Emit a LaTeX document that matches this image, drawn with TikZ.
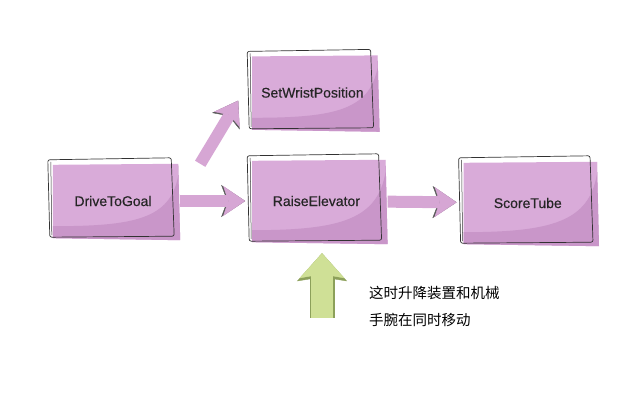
\documentclass[tikz,border=0pt]{standalone}
\usepackage{fontspec}
\setmainfont{Liberation Sans}
\newfontfamily\labelfont{Liberation Sans}[FakeBold=0.35]
\newfontfamily\cjk{Noto Sans CJK SC}
\usepackage{tikz}
\usetikzlibrary{positioning}
\usetikzlibrary{arrows.meta,backgrounds}
\definecolor{boxlight}{RGB}{217,171,217}
\definecolor{boxdark}{RGB}{201,150,201}
\definecolor{arrowpurple}{RGB}{214,166,212}
\definecolor{greenfill}{RGB}{207,224,150}
\definecolor{greenline}{RGB}{140,160,90}
\definecolor{inkgray}{RGB}{50,50,50}

\begin{document}
\begin{tikzpicture}[x=1pt, y=1pt,
  state/.style = {minimum width=122pt, minimum height=74pt, inner sep=0pt,
    font=\labelfont\fontsize{14}{16}\selectfont, text=black!85},
  big/.style = {minimum width=130pt, minimum height=82pt},
  note/.style = {font=\cjk\fontsize{14.5}{27}\selectfont, align=left, inner sep=0pt, text=black},
  ink/.style = {draw=inkgray, line width=0.7pt, line join=round, rounded corners=2pt},
  flow/.style = {line width=12pt, arrowpurple, shorten <=6pt, shorten >=6pt,
    -{Stealth[length=22pt, width=30pt, inset=5pt, line width=0.4pt]},
    preaction={draw=black!65, line width=0.1pt,
      -{Stealth[length=24pt, width=32pt, inset=6pt, line width=0.4pt]}}},
  nudge/.style = {line width=22pt, greenfill, shorten >=11pt,
    -{Stealth[length=25pt, width=45pt, inset=4pt, line width=0.4pt]},
    preaction={draw=greenline, line width=25pt,
      -{Stealth[length=28pt, width=50pt, inset=4pt, line width=0.4pt]}}}
]
\useasboundingbox (0,0) rectangle (640,404);

\node[state] (drive) at (113,203) {DriveToGoal};
\node[state, big, right=77pt of drive] (raise) {RaiseElevator};
\node[state, above=30pt of raise, xshift=-4pt] (wrist) {SetWristPosition};
\node[state, big, right=81pt of raise, yshift=-2pt] (score) {ScoreTube};
\coordinate (base) at (322,86);
\node[note, anchor=west] (note) at (369,98) {这时升降装置和机械\\手腕在同时移动};

\begin{scope}[on background layer]
\foreach \n in {drive, wrist, raise, score} {
  \fill[boxlight] ([shift={(1pt,-1pt)}]\n.north west) -- ([shift={(4pt,0pt)}]\n.north east)
    -- ([shift={(6pt,-2pt)}]\n.south east) -- ([shift={(1pt,0pt)}]\n.south west) -- cycle;
  \fill[boxdark] ([shift={(1pt,12pt)}]\n.south west) .. controls ([shift={(-40pt,12pt)}]\n.south east)
    and ([shift={(-4pt,-18pt)}]\n.east) .. ([shift={(4pt,-12pt)}]\n.north east)
    -- ([shift={(4pt,0pt)}]\n.north east) -- ([shift={(6pt,-2pt)}]\n.south east)
    -- ([shift={(1pt,0pt)}]\n.south west) -- cycle;
  \draw[ink] ([shift={(-4pt,4pt)}]\n.north west) -- ([shift={(-3pt,6pt)}]\n.north east)
    -- ([shift={(0pt,2pt)}]\n.south east) -- ([shift={(-2pt,1pt)}]\n.south west) -- cycle;
  \draw[ink, line width=0.5pt] ([shift={(-1pt,2pt)}]\n.north west) -- ([shift={(0pt,3pt)}]\n.south west);
}
\end{scope}

% arrows between the states
\draw[flow] (drive) -- (raise);
\draw[flow] (raise) -- (score);
\draw[flow, shorten <=0pt, shorten >=0pt] ([xshift=26pt]drive.north east)
  -- ([xshift=-13pt, yshift=-8pt]wrist.west);
\draw[nudge] (base) -- (base |- raise.south);
\end{tikzpicture}
\end{document}
